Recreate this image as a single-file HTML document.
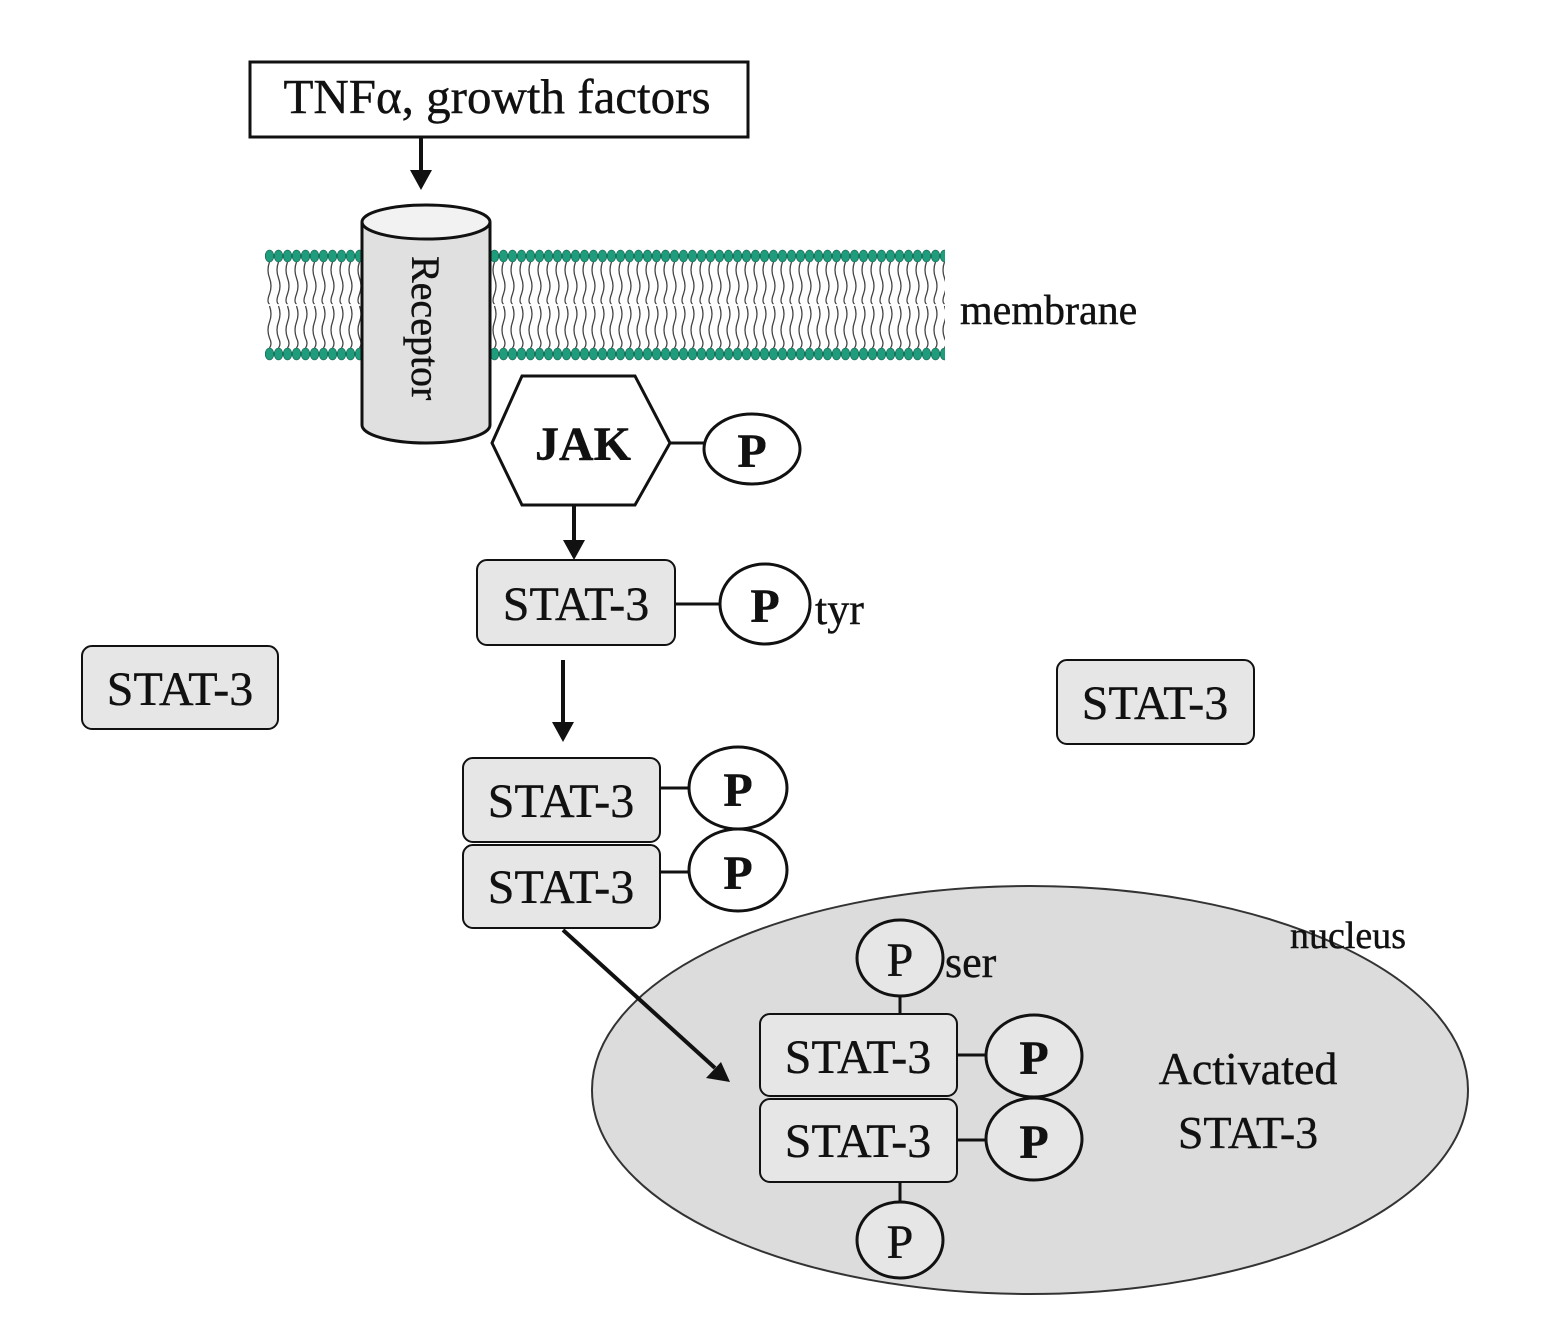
<!DOCTYPE html>
<html><head><style>body{margin:0;background:#fff}svg{display:block}text{font-family:"Liberation Serif",serif;fill:#111;stroke:#111;stroke-width:0.4}</style></head>
<body>
<svg width="1554" height="1333" viewBox="0 0 1554 1333" xmlns="http://www.w3.org/2000/svg">
<defs>
<pattern id="heads" x="265" y="0" width="9" height="400" patternUnits="userSpaceOnUse">
<path d="M4.5 262 q-3 8 0 16 q3 8 0 16 q-3 8 0 10" stroke="#444" stroke-width="1.3" fill="none"/>
<path d="M4.5 306 q3 8 0 16 q-3 8 0 16 q3 6 0 10" stroke="#444" stroke-width="1.3" fill="none"/>
<ellipse cx="4.5" cy="256" rx="4.3" ry="6" fill="#1e9c7c" stroke="#0d5a46" stroke-width="0.6"/>
<ellipse cx="4.5" cy="354" rx="4.3" ry="6" fill="#1e9c7c" stroke="#0d5a46" stroke-width="0.6"/>
</pattern>
</defs>
<rect x="265" y="248" width="680" height="114" fill="url(#heads)"/>
<rect x="250" y="62" width="498" height="75" fill="#fff" stroke="#111" stroke-width="3"/>
<text x="497" y="113" font-size="49" text-anchor="middle">TNFα, growth factors</text>
<line x1="421" y1="137" x2="421" y2="172" stroke="#111" stroke-width="4"/>
<path d="M410 170 L432 170 L421 190 z" fill="#111"/>
<path d="M362 222 L362 425 A64 18 0 0 0 490 425 L490 222" fill="#e0e0e0" stroke="#111" stroke-width="3"/>
<ellipse cx="426" cy="222" rx="64" ry="17" fill="#f2f2f2" stroke="#111" stroke-width="3"/>
<text transform="translate(412,256) rotate(90)" font-size="40">Receptor</text>
<text x="960" y="324" font-size="42">membrane</text>
<polygon points="492,443 522,376 635,376 670,443 635,505 522,505" fill="#fff" stroke="#111" stroke-width="3"/>
<text x="583" y="460" font-size="48" text-anchor="middle" font-weight="bold">JAK</text>
<line x1="670" y1="443" x2="705" y2="443" stroke="#111" stroke-width="3"/>
<ellipse cx="752" cy="449" rx="48" ry="35" fill="#fff" stroke="#111" stroke-width="3"/>
<text x="752" y="467" font-size="48" text-anchor="middle" font-weight="bold">P</text>
<line x1="574" y1="505" x2="574" y2="542" stroke="#111" stroke-width="4"/>
<path d="M563 540 L585 540 L574 560 z" fill="#111"/>
<rect x="477" y="560" width="198" height="85" rx="10" fill="#e6e6e6" stroke="#111" stroke-width="2"/>
<text x="576" y="620" font-size="48" text-anchor="middle">STAT-3</text>
<line x1="675" y1="604" x2="720" y2="604" stroke="#111" stroke-width="3"/>
<ellipse cx="765" cy="604" rx="45" ry="40" fill="#fff" stroke="#111" stroke-width="3"/>
<text x="765" y="622" font-size="48" text-anchor="middle" font-weight="bold">P</text>
<text x="815" y="624" font-size="44">tyr</text>
<rect x="82" y="646" width="196" height="83" rx="10" fill="#e6e6e6" stroke="#111" stroke-width="2"/>
<text x="180" y="705" font-size="48" text-anchor="middle">STAT-3</text>
<rect x="1057" y="660" width="197" height="84" rx="10" fill="#e6e6e6" stroke="#111" stroke-width="2"/>
<text x="1155" y="719" font-size="48" text-anchor="middle">STAT-3</text>
<line x1="563" y1="660" x2="563" y2="724" stroke="#111" stroke-width="4"/>
<path d="M552 722 L574 722 L563 742 z" fill="#111"/>
<rect x="463" y="758" width="197" height="84" rx="10" fill="#e6e6e6" stroke="#111" stroke-width="2"/>
<text x="561" y="817" font-size="48" text-anchor="middle">STAT-3</text>
<rect x="463" y="845" width="197" height="83" rx="10" fill="#e6e6e6" stroke="#111" stroke-width="2"/>
<text x="561" y="903" font-size="48" text-anchor="middle">STAT-3</text>
<line x1="660" y1="788" x2="690" y2="788" stroke="#111" stroke-width="3"/>
<line x1="660" y1="872" x2="690" y2="872" stroke="#111" stroke-width="3"/>
<ellipse cx="738" cy="788" rx="49" ry="41" fill="#fff" stroke="#111" stroke-width="3"/>
<ellipse cx="738" cy="870" rx="49" ry="41" fill="#fff" stroke="#111" stroke-width="3"/>
<text x="738" y="806" font-size="48" text-anchor="middle" font-weight="bold">P</text>
<text x="738" y="889" font-size="48" text-anchor="middle" font-weight="bold">P</text>
<ellipse cx="1030" cy="1090" rx="438" ry="204" fill="#dcdcdc" stroke="#333" stroke-width="2"/>
<text x="1290" y="948" font-size="38">nucleus</text>
<line x1="563" y1="930" x2="715" y2="1068" stroke="#111" stroke-width="4"/>
<path d="M706 1078 L721 1062 L730 1082 z" fill="#111"/>
<line x1="900" y1="995" x2="900" y2="1014" stroke="#111" stroke-width="3"/>
<ellipse cx="900" cy="958" rx="43" ry="38" fill="#e6e6e6" stroke="#111" stroke-width="3"/>
<text x="900" y="976" font-size="48" text-anchor="middle">P</text>
<text x="945" y="977" font-size="44">ser</text>
<rect x="760" y="1014" width="197" height="82" rx="10" fill="#e6e6e6" stroke="#111" stroke-width="2"/>
<text x="858" y="1073" font-size="48" text-anchor="middle">STAT-3</text>
<rect x="760" y="1099" width="197" height="83" rx="10" fill="#e6e6e6" stroke="#111" stroke-width="2"/>
<text x="858" y="1157" font-size="48" text-anchor="middle">STAT-3</text>
<line x1="957" y1="1055" x2="987" y2="1055" stroke="#111" stroke-width="3"/>
<line x1="957" y1="1140" x2="987" y2="1140" stroke="#111" stroke-width="3"/>
<ellipse cx="1034" cy="1056" rx="48" ry="41" fill="#e6e6e6" stroke="#111" stroke-width="3"/>
<ellipse cx="1034" cy="1139" rx="48" ry="41" fill="#e6e6e6" stroke="#111" stroke-width="3"/>
<text x="1034" y="1074" font-size="48" text-anchor="middle" font-weight="bold">P</text>
<text x="1034" y="1158" font-size="48" text-anchor="middle" font-weight="bold">P</text>
<line x1="900" y1="1182" x2="900" y2="1202" stroke="#111" stroke-width="3"/>
<ellipse cx="900" cy="1240" rx="43" ry="38" fill="#e6e6e6" stroke="#111" stroke-width="3"/>
<text x="900" y="1258" font-size="48" text-anchor="middle">P</text>
<text x="1248" y="1084" font-size="46" text-anchor="middle">Activated</text>
<text x="1248" y="1148" font-size="46" text-anchor="middle">STAT-3</text>
</svg>
</body></html>
